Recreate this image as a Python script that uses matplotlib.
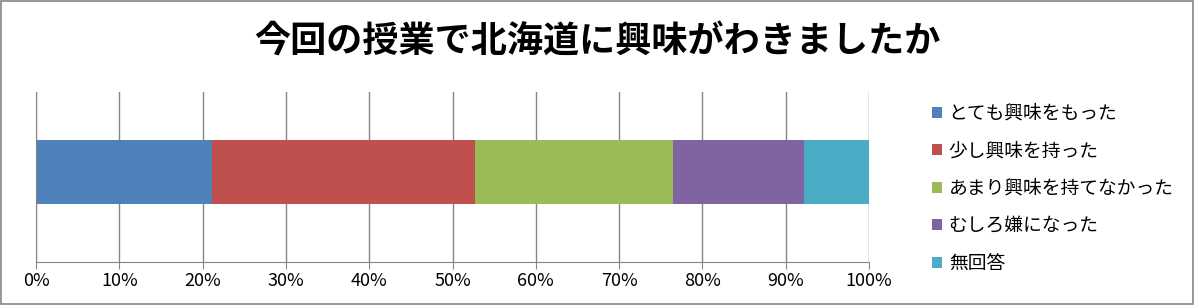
import matplotlib
matplotlib.use("Agg")
import matplotlib.pyplot as plt
from matplotlib.patches import Rectangle

plt.rcParams['font.family'] = ['Noto Sans CJK JP', 'DejaVu Sans']

title = "今回の授業で北海道に興味がわきましたか"
categories = ["とても興味をもった", "少し興味を持った", "あまり興味を持てなかった", "むしろ嫌になった", "無回答"]
values = [21.1, 31.6, 23.8, 15.7, 7.8]
colors = ["#4F81BD", "#C0504D", "#9BBB59", "#8064A2", "#4BACC6"]
xticks = [0, 10, 20, 30, 40, 50, 60, 70, 80, 90, 100]
xticklabels = [f"{t}%" for t in xticks]

fig = plt.figure(figsize=(11.94, 3.05), dpi=100)
ax = fig.add_axes([36/1194, 1-262/305, (869-36)/1194, (262-92)/305])

left = 0
handles = []
for cat, v, c in zip(categories, values, colors):
    h = ax.barh(0, v, left=left, height=0.376, color=c, label=cat)
    handles.append(h)
    left += v

ax.set_xlim(0, 100)
ax.set_ylim(-0.529, 0.471)
ax.set_xticks(xticks)
ax.set_xticklabels(xticklabels, fontsize=13)
ax.set_yticks([])
ax.grid(axis='x', color='#868686', linewidth=1)
ax.set_axisbelow(True)
for s in ['top', 'right']:
    ax.spines[s].set_visible(False)
for s in ['left', 'bottom']:
    ax.spines[s].set_color('#868686')
ax.tick_params(axis='x', direction='out', length=5, color='#868686', pad=2)

fig.text(0.5, 1-42/305, title, ha='center', va='center', fontsize=26, fontweight='bold')

leg = fig.legend(handles=handles, labels=categories, loc='upper left',
                 bbox_to_anchor=(915/1194, 1-86/305), frameon=False,
                 fontsize=13.5, handlelength=0.55, handleheight=0.55,
                 handletextpad=0.35, labelspacing=0.88)

fig.patches.append(Rectangle((0.001, 0.002), 0.998, 0.995, transform=fig.transFigure,
                             fill=False, edgecolor='#868686', linewidth=1.2))

fig.savefig("out.png", dpi=100)
